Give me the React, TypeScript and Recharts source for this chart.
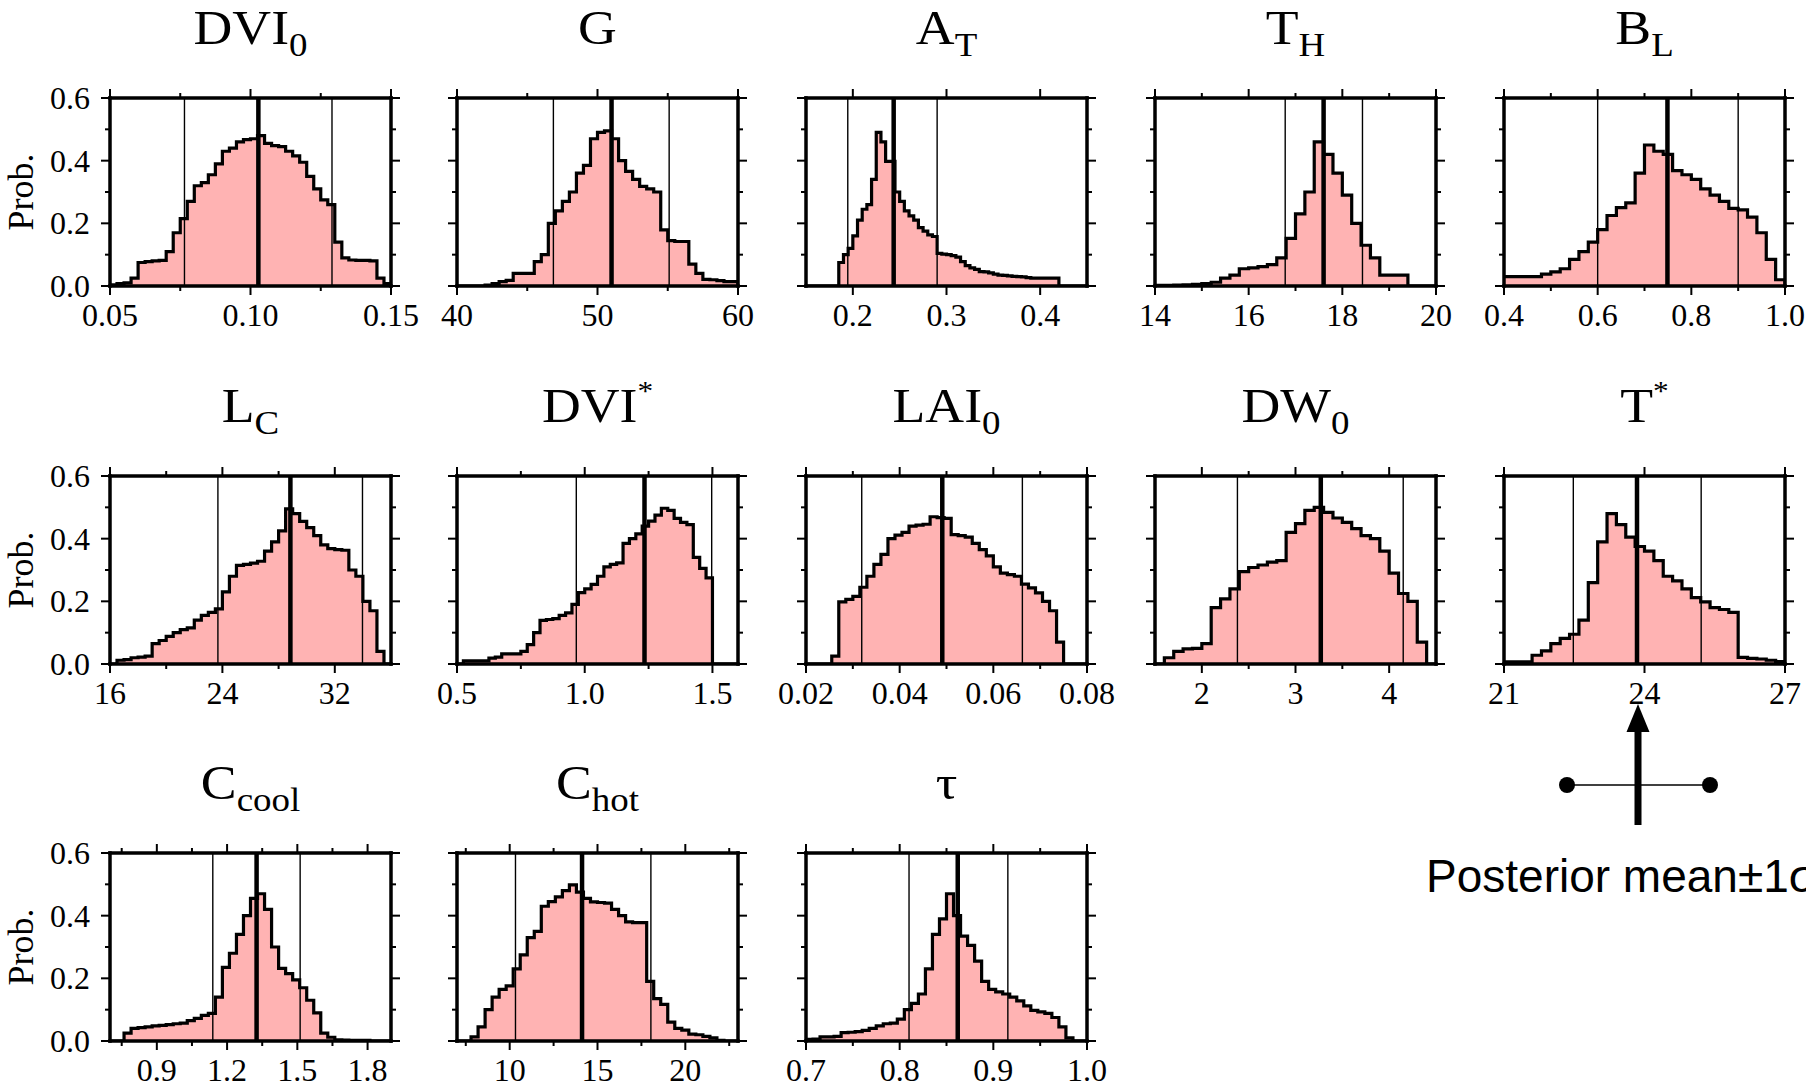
import React from "react";
import { AreaChart, Area, XAxis, YAxis, ReferenceLine } from "recharts";

// posterior histograms: bin heights (probability)
const dvi0Probs = [0.004, 0.008, 0.01, 0.025, 0.075, 0.078, 0.08, 0.082, 0.11, 0.17, 0.215, 0.27, 0.32, 0.33, 0.355, 0.39, 0.43, 0.44, 0.46, 0.467, 0.47, 0.48, 0.455, 0.448, 0.445, 0.43, 0.415, 0.395, 0.35, 0.31, 0.275, 0.26, 0.14, 0.09, 0.083, 0.082, 0.082, 0.08, 0.025, 0.008];
const gProbs = [0, 0, 0, 0, 0.003, 0.008, 0.014, 0.018, 0.04, 0.04, 0.04, 0.078, 0.1, 0.2, 0.24, 0.27, 0.3, 0.36, 0.385, 0.47, 0.49, 0.495, 0.47, 0.4, 0.366, 0.34, 0.318, 0.31, 0.3, 0.179, 0.145, 0.142, 0.142, 0.07, 0.04, 0.021, 0.02, 0.017, 0.014, 0.014];
const atProbs = [0.075, 0.1, 0.12, 0.16, 0.21, 0.245, 0.26, 0.34, 0.49, 0.46, 0.398, 0.398, 0.3, 0.27, 0.24, 0.224, 0.21, 0.186, 0.175, 0.163, 0.158, 0.104, 0.102, 0.1, 0.097, 0.092, 0.078, 0.065, 0.058, 0.053, 0.046, 0.045, 0.042, 0.038, 0.035, 0.034, 0.032, 0.031, 0.03, 0.029, 0.027, 0.025, 0.025, 0.025, 0.025, 0.025, 0.025];
const thProbs = [0.002, 0.002, 0.003, 0.004, 0.005, 0.008, 0.012, 0.025, 0.035, 0.055, 0.058, 0.062, 0.068, 0.09, 0.152, 0.23, 0.3, 0.46, 0.42, 0.36, 0.29, 0.2, 0.13, 0.09, 0.035, 0.035, 0.035, 0, 0, 0];
const blProbs = [0.03, 0.03, 0.03, 0.03, 0.038, 0.045, 0.055, 0.085, 0.11, 0.14, 0.18, 0.225, 0.25, 0.265, 0.36, 0.45, 0.43, 0.42, 0.368, 0.355, 0.34, 0.31, 0.29, 0.27, 0.248, 0.243, 0.22, 0.17, 0.085, 0.02];
const lcProbs = [0, 0.012, 0.014, 0.02, 0.022, 0.025, 0.065, 0.075, 0.088, 0.1, 0.11, 0.115, 0.14, 0.155, 0.165, 0.176, 0.23, 0.28, 0.315, 0.318, 0.322, 0.328, 0.36, 0.39, 0.425, 0.495, 0.48, 0.455, 0.435, 0.41, 0.38, 0.368, 0.365, 0.363, 0.3, 0.28, 0.2, 0.17, 0.04, 0];
const dviStarProbs = [0, 0.01, 0.01, 0.01, 0.01, 0.019, 0.022, 0.032, 0.032, 0.032, 0.04, 0.062, 0.1, 0.139, 0.142, 0.145, 0.155, 0.163, 0.19, 0.228, 0.24, 0.254, 0.28, 0.31, 0.318, 0.323, 0.385, 0.4, 0.415, 0.44, 0.456, 0.475, 0.497, 0.49, 0.465, 0.452, 0.445, 0.34, 0.305, 0.275];
const lai0Probs = [0.025, 0.198, 0.206, 0.216, 0.245, 0.28, 0.318, 0.35, 0.4, 0.411, 0.42, 0.44, 0.443, 0.446, 0.47, 0.467, 0.465, 0.413, 0.41, 0.405, 0.385, 0.365, 0.345, 0.31, 0.29, 0.285, 0.28, 0.255, 0.243, 0.227, 0.2, 0.17, 0.07];
const dw0Probs = [0, 0.02, 0.04, 0.048, 0.05, 0.065, 0.18, 0.208, 0.24, 0.295, 0.308, 0.316, 0.325, 0.33, 0.42, 0.448, 0.49, 0.5, 0.484, 0.466, 0.452, 0.432, 0.41, 0.4, 0.36, 0.29, 0.225, 0.2, 0.07, 0];
const tStarProbs = [0.007, 0.007, 0.007, 0.028, 0.042, 0.065, 0.082, 0.095, 0.14, 0.26, 0.39, 0.48, 0.445, 0.405, 0.375, 0.36, 0.33, 0.28, 0.265, 0.24, 0.212, 0.198, 0.18, 0.174, 0.165, 0.021, 0.018, 0.016, 0.012, 0.008];
const cCoolProbs = [0, 0, 0.025, 0.04, 0.043, 0.045, 0.048, 0.05, 0.052, 0.055, 0.057, 0.065, 0.072, 0.082, 0.088, 0.14, 0.235, 0.28, 0.34, 0.4, 0.455, 0.47, 0.42, 0.3, 0.232, 0.215, 0.195, 0.17, 0.13, 0.09, 0.025, 0.012, 0.004, 0.003, 0.002, 0.002, 0.002, 0, 0, 0];
const cHotProbs = [0, 0, 0.013, 0.045, 0.1, 0.14, 0.165, 0.176, 0.23, 0.275, 0.33, 0.35, 0.43, 0.445, 0.46, 0.48, 0.498, 0.475, 0.455, 0.444, 0.442, 0.44, 0.42, 0.4, 0.38, 0.378, 0.378, 0.19, 0.135, 0.117, 0.06, 0.04, 0.035, 0.022, 0.02, 0.015, 0.01, 0.002, 0, 0];
const tauProbs = [0.005, 0.006, 0.013, 0.013, 0.015, 0.027, 0.028, 0.03, 0.034, 0.04, 0.048, 0.055, 0.057, 0.07, 0.1, 0.12, 0.15, 0.23, 0.34, 0.39, 0.47, 0.4, 0.335, 0.305, 0.255, 0.19, 0.165, 0.157, 0.15, 0.14, 0.128, 0.112, 0.098, 0.093, 0.088, 0.075, 0.045, 0.01, 0, 0];

const yTicks = [0, 0.1, 0.2, 0.3, 0.4, 0.5, 0.6];

type Panel = {
  name: string;
  sub?: string;
  sup?: string;
  domain: [number, number];
  major: number[];
  minor: number[];
  decimals: number;
  start: number;
  width: number;
  probs: number[];
  mean: number;
  lo: number;
  hi: number;
};

const panels: Panel[] = [
  { name: "DVI", sub: "0", domain: [0.05, 0.15], major: [0.05, 0.1, 0.15], minor: [0.075, 0.125], decimals: 2, start: 0.05, width: 0.0025, probs: dvi0Probs, mean: 0.1028, lo: 0.0765, hi: 0.129 },
  { name: "G", domain: [40, 60], major: [40, 50, 60], minor: [45, 55], decimals: 0, start: 40, width: 0.5, probs: gProbs, mean: 51.0, lo: 46.86, hi: 55.1 },
  { name: "A", sub: "T", domain: [0.15, 0.45], major: [0.2, 0.3, 0.4], minor: [], decimals: 1, start: 0.185, width: 0.005, probs: atProbs, mean: 0.2436, lo: 0.1946, hi: 0.29 },
  { name: "T", sub: "H", domain: [14, 20], major: [14, 16, 18, 20], minor: [15, 17, 19], decimals: 0, start: 14, width: 0.2, probs: thProbs, mean: 17.6, lo: 16.78, hi: 18.43 },
  { name: "B", sub: "L", domain: [0.4, 1.0], major: [0.4, 0.6, 0.8, 1.0], minor: [0.5, 0.7, 0.9], decimals: 1, start: 0.4, width: 0.02, probs: blProbs, mean: 0.749, lo: 0.6, hi: 0.9 },
  { name: "L", sub: "C", domain: [16, 36], major: [16, 24, 32], minor: [20, 28], decimals: 0, start: 16, width: 0.5, probs: lcProbs, mean: 28.84, lo: 23.68, hi: 33.97 },
  { name: "DVI", sup: "*", domain: [0.5, 1.6], major: [0.5, 1.0, 1.5], minor: [0.75, 1.25], decimals: 1, start: 0.5, width: 0.025, probs: dviStarProbs, mean: 1.234, lo: 0.967, hi: 1.497 },
  { name: "LAI", sub: "0", domain: [0.02, 0.08], major: [0.02, 0.04, 0.06, 0.08], minor: [0.03, 0.05, 0.07], decimals: 2, start: 0.0255, width: 0.0015, probs: lai0Probs, mean: 0.0491, lo: 0.0319, hi: 0.0662 },
  { name: "DW", sub: "0", domain: [1.5, 4.5], major: [2, 3, 4], minor: [2.5, 3.5], decimals: 0, start: 1.5, width: 0.1, probs: dw0Probs, mean: 3.27, lo: 2.38, hi: 4.15 },
  { name: "T", sup: "*", domain: [21, 27], major: [21, 24, 27], minor: [], decimals: 0, start: 21, width: 0.2, probs: tStarProbs, mean: 23.84, lo: 22.48, hi: 25.21 },
  { name: "C", sub: "cool", domain: [0.7, 1.9], major: [0.9, 1.2, 1.5, 1.8], minor: [0.75, 1.05, 1.35, 1.65], decimals: 1, start: 0.7, width: 0.03, probs: cCoolProbs, mean: 1.326, lo: 1.139, hi: 1.512 },
  { name: "C", sub: "hot", domain: [7, 23], major: [10, 15, 20], minor: [7.5, 12.5, 17.5, 22.5], decimals: 0, start: 7, width: 0.4, probs: cHotProbs, mean: 14.12, lo: 10.33, hi: 18.04 },
  { name: "τ", domain: [0.7, 1.0], major: [0.7, 0.8, 0.9, 1.0], minor: [0.75, 0.85, 0.95], decimals: 1, start: 0.7, width: 0.0075, probs: tauProbs, mean: 0.862, lo: 0.81, hi: 0.9155 },
];

const COL_X = [110, 457, 806, 1155, 1504];
const ROW_Y = [98, 476, 853];
const BOX_W = 281;
const BOX_H = 188;
const PL = 80; // left axis width
const PR = 30; // right axis width
const PT = 15; // top axis height
const MT = 20; // extra room above the top axis
const PB = 55; // bottom axis height

const SERIF = "Liberation Serif, Times New Roman, serif";
const frame = { stroke: "#000", strokeWidth: 3.5, strokeLinecap: "square" as const };

function toSteps(p: Panel) {
  const pts: { x: number; p: number }[] = [];
  if (p.start > p.domain[0] + 1e-9) pts.push({ x: p.domain[0], p: 0 });
  p.probs.forEach((v, i) => pts.push({ x: p.start + i * p.width, p: v }));
  const end = p.start + p.probs.length * p.width;
  pts.push({ x: end, p: 0 });
  if (end < p.domain[1] - 1e-9) pts.push({ x: p.domain[1], p: 0 });
  return pts;
}

const isMajor = (list: number[], v: number) => list.some((m) => Math.abs(m - v) < 1e-9);

function xTick(p: Panel, side: "top" | "bottom") {
  return (props: any) => {
    const { x, y, payload } = props;
    const major = isMajor(p.major, payload.value);
    const dir = side === "bottom" ? 1 : -1;
    return (
      <g>
        <line x1={x} x2={x} y1={y} y2={y + dir * (major ? 9 : 5)} stroke="#000" strokeWidth={2} />
        {side === "bottom" && major && (
          <text x={x} y={y + 40} textAnchor="middle" fontFamily={SERIF} fontSize={32} fill="#000">
            {payload.value.toFixed(p.decimals)}
          </text>
        )}
      </g>
    );
  };
}

function yTick(side: "left" | "right", labels: boolean) {
  return (props: any) => {
    const { x, y, payload } = props;
    const major = Math.round(payload.value * 10) % 2 === 0;
    const dir = side === "left" ? -1 : 1;
    return (
      <g>
        <line x1={x} x2={x + dir * (major ? 9 : 5)} y1={y} y2={y} stroke="#000" strokeWidth={2} />
        {labels && major && (
          <text x={x - 20} y={y + 11} textAnchor="end" fontFamily={SERIF} fontSize={32} fill="#000">
            {payload.value.toFixed(1)}
          </text>
        )}
      </g>
    );
  };
}

function Histogram({ p, col, row }: { p: Panel; col: number; row: number }) {
  const data = toSteps(p);
  const xt = [...p.major, ...p.minor].sort((a, b) => a - b);
  return (
    <div style={{ position: "absolute", left: COL_X[col] - PL, top: ROW_Y[row] - PT - MT }}>
      <AreaChart width={BOX_W + PL + PR} height={BOX_H + PT + MT + PB} data={data} margin={{ top: MT, right: 0, bottom: 0, left: 0 }}>
        <XAxis type="number" dataKey="x" domain={p.domain} ticks={xt} interval={0} allowDataOverflow
          height={PB} tickSize={0} tickMargin={0} tickLine={false} axisLine={frame} tick={xTick(p, "bottom")} />
        <XAxis xAxisId="top" orientation="top" type="number" dataKey="x" domain={p.domain} ticks={xt} interval={0} allowDataOverflow
          height={PT} tickSize={0} tickMargin={0} tickLine={false} axisLine={frame} tick={xTick(p, "top")} />
        <YAxis type="number" domain={[0, 0.6]} ticks={yTicks} interval={0} allowDataOverflow
          width={PL} tickSize={0} tickMargin={0} tickLine={false} axisLine={frame} tick={yTick("left", col === 0)} />
        <YAxis yAxisId="r" orientation="right" type="number" domain={[0, 0.6]} ticks={yTicks} interval={0} allowDataOverflow
          width={PR} tickSize={0} tickMargin={0} tickLine={false} axisLine={frame} tick={yTick("right", false)} />
        <Area type="stepAfter" dataKey="p" stroke="#000" strokeWidth={3.2} fill="#ffb3b3" fillOpacity={1}
          dot={false} activeDot={false} isAnimationActive={false} />
        <ReferenceLine x={p.lo} stroke="#000" strokeWidth={1.4} />
        <ReferenceLine x={p.hi} stroke="#000" strokeWidth={1.4} />
        <ReferenceLine x={p.mean} stroke="#000" strokeWidth={4.5} />
      </AreaChart>
    </div>
  );
}

export default function App() {
  return (
    <div style={{ position: "absolute", left: 0, top: 0, width: 1806, height: 1089, overflow: "hidden", background: "#fff" }}>
      {panels.map((p, i) => (
        <Histogram key={i} p={p} col={i % 5} row={Math.floor(i / 5)} />
      ))}
      <svg width={1806} height={1089} style={{ position: "absolute", left: 0, top: 0, pointerEvents: "none" }}>
        {panels.map((p, i) => {
          const cx = COL_X[i % 5] + BOX_W / 2;
          const by = ROW_Y[Math.floor(i / 5)] - 54;
          return (
            <text key={i} transform={`translate(${cx}, ${by}) scale(1.12, 1)`} textAnchor="middle"
              fontFamily={SERIF} fontSize={48} fill="#000">
              {p.name}
              {p.sub && <tspan dy={12} fontSize={33}>{p.sub}</tspan>}
              {p.sup && <tspan dy={-22} fontSize={28}>{p.sup}</tspan>}
            </text>
          );
        })}
        {ROW_Y.map((y, r) => (
          <text key={r} transform={`translate(33, ${y + BOX_H / 2}) rotate(-90)`} textAnchor="middle"
            fontFamily={SERIF} fontSize={36} fill="#000">Prob.</text>
        ))}
        <line x1={1567} y1={785} x2={1710} y2={785} stroke="#000" strokeWidth={1.5} />
        <circle cx={1567} cy={785} r={8} fill="#000" />
        <circle cx={1710} cy={785} r={8} fill="#000" />
        <rect x={1634.5} y={725} width={7} height={100} fill="#000" />
        <polygon points="1638,704 1626.5,732 1649.5,732" fill="#000" />
        <text x={1426} y={892} fontFamily="Liberation Sans, Arial, sans-serif" fontSize={46} fill="#000">Posterior mean±1σ</text>
      </svg>
    </div>
  );
}
